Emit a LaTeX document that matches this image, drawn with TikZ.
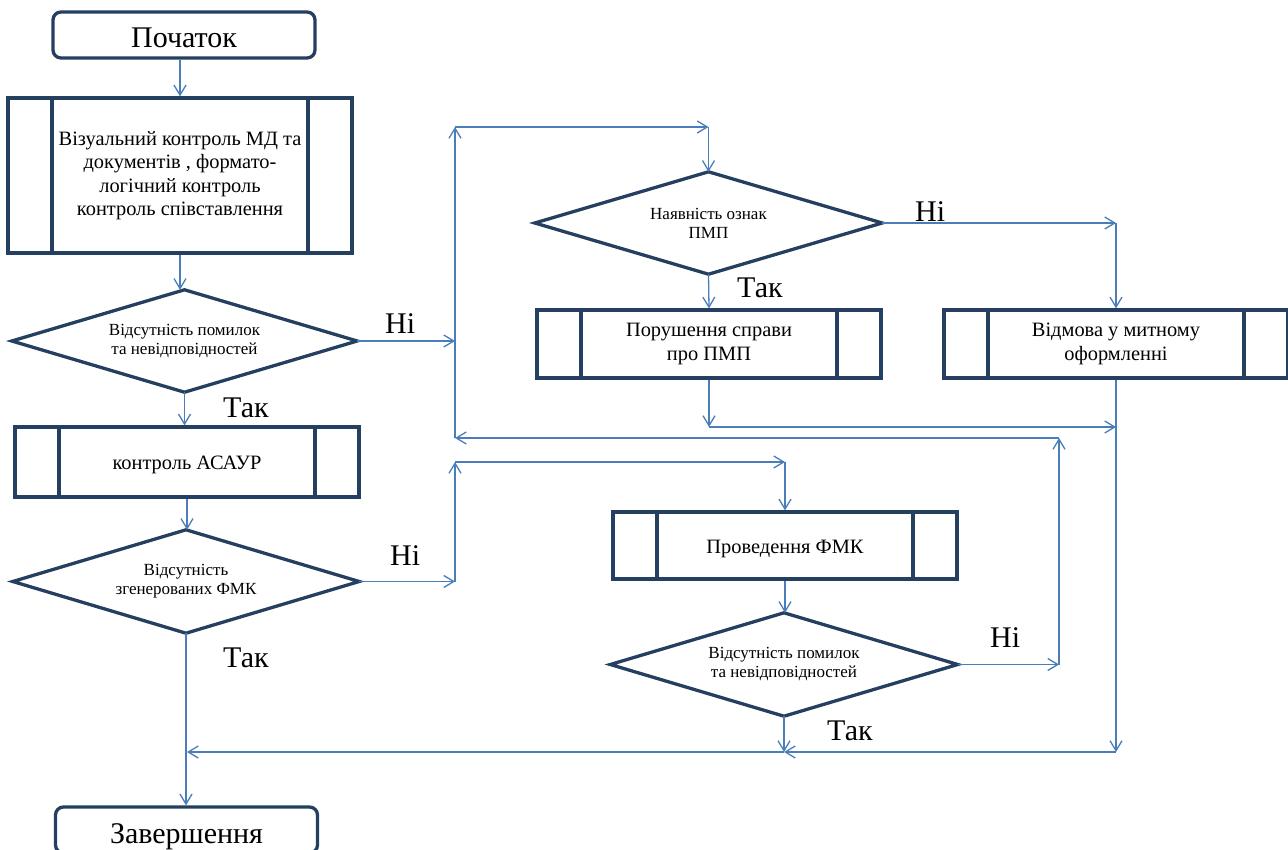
\documentclass[tikz,border=0pt]{standalone}
\usepackage{fontspec}
\setmainfont{Liberation Serif}
\usetikzlibrary{arrows.meta}
\definecolor{boxc}{HTML}{243F60}
\definecolor{linec}{HTML}{4A7EBB}
\begin{document}
\begin{tikzpicture}[x=1pt,y=-1pt,
  term/.style={draw=boxc, line width=3.3pt, rounded corners=8pt, minimum width=262pt, minimum height=46pt, inner sep=0pt, font=\fontsize{30}{30}\selectfont, text height=26pt, text depth=0pt},
  proc/.style={draw=boxc, line width=3.3pt, minimum width=344pt, inner sep=0pt, align=center, font=\fontsize{20.4}{23.5}\selectfont,
    path picture={\draw[boxc, line width=3.3pt]
      ([xshift=44pt]path picture bounding box.north west) -- ([xshift=44pt]path picture bounding box.south west)
      ([xshift=-44pt]path picture bounding box.north east) -- ([xshift=-44pt]path picture bounding box.south east);}},
  dec/.style={inner sep=0pt, align=center, font=\fontsize{17}{19}\selectfont},
  decshape/.style={draw=boxc, line width=3.3pt, line join=miter},
  conn/.style={draw=linec, line width=1.3pt, -{Straight Barb[length=10pt,width=12pt]}},
  lbl/.style={font=\fontsize{30}{30}\selectfont, inner sep=0pt, anchor=base west},
]
\useasboundingbox (0,0) rectangle (1288,850);

% terminals
\node[term] (start) at (184,35) {Початок};
\node[term] (fin) at (186.5,830) {Завершення};

% process boxes
\node[proc, minimum height=155pt] (box1) at (180,175.5) {Візуальний контроль МД та\\документів , формато-\\логічний контроль\\контроль співставлення};
\node[proc, minimum height=70pt, text height=14pt, text depth=0pt] (asaur) at (187,462) {контроль АСАУР};
\node[proc, minimum height=67pt, text height=15pt, text depth=0pt] (fmk) at (785,545.5) {Проведення ФМК};
\node[proc, minimum height=68pt] (por) at (709,344) {Порушення справи\\про ПМП};
\node[proc, minimum height=68pt] (otm) at (1116,344) {Відмова у митному\\оформленні};

% decisions
\node[dec, minimum width=345pt, minimum height=102pt] (d1) at (184.5,341) {Відсутність помилок\\та невідповідностей};
\node[dec, minimum width=346pt, minimum height=103pt] (d2) at (186,581.5) {Відсутність\\згенерованих ФМК};
\node[dec, minimum width=347pt, minimum height=102pt] (d3) at (708.5,223) {Наявність ознак\\ПМП};
\node[dec, minimum width=347pt, minimum height=103pt] (d4) at (784,664.5) {Відсутність помилок\\та невідповідностей};
\foreach \d in {d1,d2,d3,d4}
  \draw[decshape] (\d.west) -- (\d.north) -- (\d.east) -- (\d.south) -- cycle;

% labels
\node[lbl] (l1n) at (385,334) {Ні};
\node[lbl] (l1t) at (223,417) {Так};
\node[lbl] (l2n) at (390,565) {Ні};
\node[lbl] (l2t) at (223,667) {Так};
\node[lbl] (l3n) at (915,222) {Ні};
\node[lbl] (l3t) at (737,298) {Так};
\node[lbl] (l4n) at (990,647) {Ні};
\node[lbl] (l4t) at (827,740) {Так};

% junction points
\coordinate (p1) at (455,438);
\coordinate (p2) at (455,127);
\coordinate (p3) at (708.5,127);
\coordinate (p4) at (1059,438);
\coordinate (p5) at (1059,664.5);
\coordinate (q1) at (455,581.5);
\coordinate (q2) at (455,462);
\coordinate (q3) at (785,462);
\coordinate (r1) at (1116,223);
\coordinate (r2) at (709,427);
\coordinate (r3) at (1116,427);
\coordinate (r4) at (1116,752);
\coordinate (r5) at (784,752);
\coordinate (r6) at (187,752);

% main column
\draw[conn] (box1.north |- start.south) -- (box1.north);
\draw[conn] (box1.south) -- (box1.south |- d1.north);
\draw[conn] (d1.south) -- (d1.south |- asaur.north);
\draw[conn] (asaur.south) -- (asaur.south |- d2.north);
\draw[conn] (d2.south) -- (d2.south |- fin.north);

% upper right loop
\draw[conn] (d1.east) -- (d1.east -| p1);
\draw[conn] (p1) -- (p2);
\draw[conn] (p2) -- (p3);
\draw[conn] (p3) -- (d3.north);
\draw[conn] (d3.east) -- (r1);
\draw[conn] (r1) -- (otm.north);
\draw[conn] (d3.south) -- (por.north);
\draw[conn] (por.south) -- (r2);
\draw[conn] (r2) -- (r3);
\draw[conn] (otm.south) -- (r4);
\draw[conn] (r4) -- (r5);
\draw[conn] (r5) -- (r6);

% FMK branch
\draw[conn] (d2.east) -- (q1);
\draw[conn] (q1) -- (q2);
\draw[conn] (q2) -- (q3);
\draw[conn] (q3) -- (fmk.north);
\draw[conn] (fmk.south) -- (fmk.south |- d4.north);
\draw[conn] (d4.east) -- (p5);
\draw[conn] (p5) -- (p4);
\draw[conn] (p4) -- (p1);
\draw[conn] (d4.south) -- (r5);
\end{tikzpicture}
\end{document}
